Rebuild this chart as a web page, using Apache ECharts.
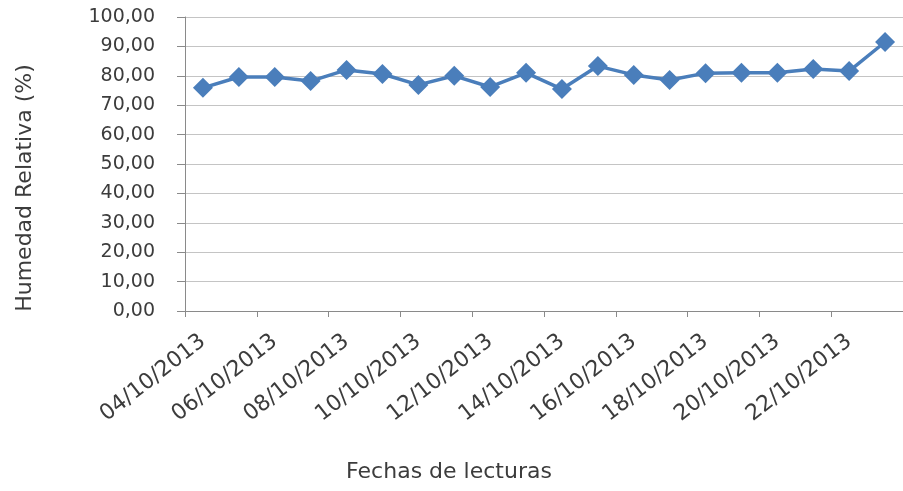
<!DOCTYPE html>
<html><head><meta charset="utf-8">
<script src="https://cdn.jsdelivr.net/npm/echarts@6/dist/echarts.min.js"></script>
<style>html,body{margin:0;padding:0;background:#fff}#c{width:903px;height:491px}</style>
</head><body><div id="c"></div>
<script>
const categories = ["04/10/2013","05/10/2013","06/10/2013","07/10/2013","08/10/2013","09/10/2013","10/10/2013","11/10/2013","12/10/2013","13/10/2013","14/10/2013","15/10/2013","16/10/2013","17/10/2013","18/10/2013","19/10/2013","20/10/2013","21/10/2013","22/10/2013","23/10/2013"];
const humedad = [75.9,79.6,79.6,78.2,82.0,80.6,76.9,80.0,76.2,81.0,75.5,83.3,80.3,78.6,80.9,81.0,81.0,82.3,81.6,91.5];
const yTitle = "Humedad Relativa (%)";
const xTitle = "Fechas de lecturas";
const fontFam = "'DejaVu Sans', sans-serif";
const txtCol = '#3c3c3c';
const chart = echarts.init(document.getElementById('c'));
chart.setOption({
  animation:false,
  grid:{left:185,top:17,right:-9,bottom:180,containLabel:false},
  xAxis:{type:'category',data:categories,boundaryGap:true,
    axisLine:{lineStyle:{color:'#8a8a8a',width:1}},
    axisTick:{show:true,interval:1,length:6,lineStyle:{color:'#8a8a8a'}},
    axisLabel:{interval:1,rotate:38,margin:28,color:txtCol,fontSize:22,fontFamily:fontFam},
    splitLine:{show:false}},
  yAxis:{type:'value',min:0,max:100,interval:10,
    axisLine:{show:true,lineStyle:{color:'#8a8a8a',width:1}},
    axisTick:{show:true,length:8,inside:false,lineStyle:{color:'#8a8a8a'}},
    axisLabel:{margin:30,color:txtCol,fontSize:19,fontFamily:fontFam,
      formatter:v=>v.toFixed(2).replace('.',',')},
    splitLine:{show:true,lineStyle:{color:'#c4c4c4',width:1}}},
  graphic:[
    {type:'text',x:25,y:188,rotation:Math.PI/2,
      style:{text:yTitle,fill:txtCol,font:"22px 'DejaVu Sans', sans-serif",align:'center',verticalAlign:'middle'}},
    {type:'text',x:449,y:472,
      style:{text:xTitle,fill:txtCol,font:"22px 'DejaVu Sans', sans-serif",align:'center',verticalAlign:'middle'}}
  ],
  series:[{type:'line',data:humedad,symbol:'diamond',symbolSize:20,
    lineStyle:{color:'#4a7ebb',width:3.5},itemStyle:{color:'#4a7ebb'}}]
});
</script></body></html>
